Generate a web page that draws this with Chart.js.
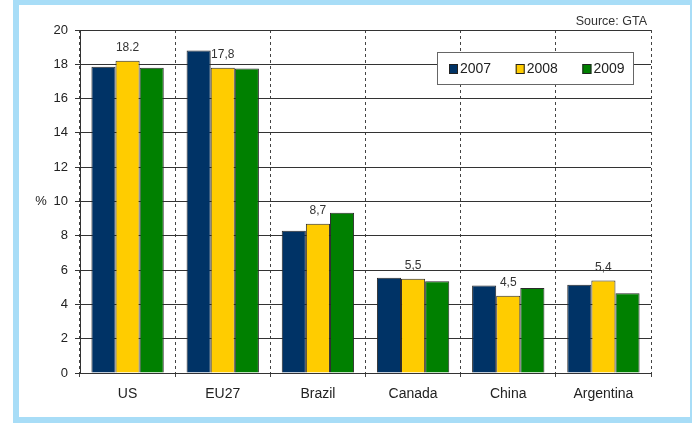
<!DOCTYPE html>
<html>
<head>
<meta charset="utf-8">
<script src="https://cdn.jsdelivr.net/npm/chart.js@4.4.1/dist/chart.umd.min.js"></script>
<style>
  html, body { margin: 0; padding: 0; background: #ffffff; }
  #frame {
    position: absolute; left: 13px; top: 0; width: 679px; height: 423px;
    background: #a8ddf7;
  }
  #panel {
    position: absolute; left: 6px; top: 5px; width: 671px; height: 412px;
    background: #ffffff;
  }
  canvas { display: block; }
</style>
</head>
<body>
<div id="frame"><div id="panel"><canvas id="c" width="671" height="411"></canvas></div></div>
<script>
// Share of world agricultural exports, %
const categories = ['US', 'EU27', 'Brazil', 'Canada', 'China', 'Argentina'];
const years = ['2007', '2008', '2009'];
const values2007 = [17.85, 18.8, 8.3, 5.55, 5.1, 5.15];
const values2008 = [18.2, 17.8, 8.7, 5.5, 4.5, 5.4];
const values2009 = [17.8, 17.75, 9.35, 5.35, 4.95, 4.65];
const labels2008 = ['18.2', '17,8', '8,7', '5,5', '4,5', '5,4'];
const yTicks = [0, 2, 4, 6, 8, 10, 12, 14, 16, 18, 20];
const colors = ['#003366', '#ffcc00', '#008000'];

const FONT = '"Liberation Sans", Arial, sans-serif';

// Value labels above the 2008 bars, axis unit, source note and boxed legend
const annotations = {
  id: 'annotations',
  afterDatasetsDraw(chart) {
    const ctx = chart.ctx;
    const area = chart.chartArea;
    ctx.save();

    // labels over the 2008 bars
    const meta = chart.getDatasetMeta(1);
    ctx.font = '12px ' + FONT;
    ctx.fillStyle = '#333333';
    ctx.textAlign = 'center';
    ctx.textBaseline = 'middle';
    meta.data.forEach((bar, i) => {
      ctx.fillText(labels2008[i], bar.x, bar.y - 13);
    });

    // unit next to the y axis
    const y = chart.scales.y;
    ctx.font = '13px ' + FONT;
    ctx.fillStyle = '#222222';
    ctx.fillText('%', 22, y.getPixelForValue(10));

    // source note
    ctx.font = '12.5px ' + FONT;
    ctx.textAlign = 'right';
    ctx.fillStyle = '#333333';
    ctx.fillText('Source: GTA', area.right - 4, 17);

    // legend box
    const bx = area.right - 214, by = area.top + 22, bw = 196, bh = 32;
    ctx.fillStyle = '#ffffff';
    ctx.fillRect(bx, by, bw, bh);
    ctx.strokeStyle = '#666666';
    ctx.lineWidth = 1;
    ctx.strokeRect(bx + 0.5, by + 0.5, bw, bh);
    ctx.font = '14px ' + FONT;
    ctx.textAlign = 'left';
    chart.data.datasets.forEach((ds, i) => {
      const sx = bx + 12 + i * 66.7;
      const sy = by + 12;
      ctx.fillStyle = ds.backgroundColor;
      ctx.fillRect(sx, sy, 9, 10);
      ctx.strokeStyle = '#222222';
      ctx.strokeRect(sx + 0.5, sy + 0.5, 8, 9);
      ctx.fillStyle = '#222222';
      ctx.fillText(ds.label, sx + 11, by + 17);
    });
    ctx.restore();
  }
};

const datasets = [values2007, values2008, values2009].map((vals, i) => ({
  label: years[i],
  data: vals,
  backgroundColor: colors[i],
  borderColor: '#2a2a2a',
  borderWidth: 1,
  borderSkipped: 'bottom',
  categoryPercentage: 0.76,
  barPercentage: 1.0
}));

new Chart(document.getElementById('c'), {
  type: 'bar',
  data: { labels: categories, datasets: datasets },
  options: {
    responsive: false,
    animation: false,
    layout: { padding: { top: 25, right: 39, left: 0, bottom: 0 } },
    plugins: {
      legend: { display: false },
      tooltip: { enabled: false }
    },
    scales: {
      x: {
        offset: true,
        grid: {
          display: true,
          offset: true,
          color: '#444444',
          lineWidth: 1,
          drawTicks: true,
          tickLength: 5,
          tickColor: '#444444',
          tickBorderDash: [3, 3]
        },
        border: { display: true, color: '#333333', width: 1, dash: [3, 3] },
        ticks: {
          color: '#222222',
          font: { family: FONT, size: 14 },
          padding: 8,
          maxRotation: 0
        },
        afterFit(scale) { scale.height = 43; }
      },
      y: {
        min: 0,
        max: 20,
        afterBuildTicks(scale) { scale.ticks = yTicks.map(v => ({ value: v })); },
        grid: {
          color: '#333333',
          lineWidth: 1,
          drawTicks: true,
          tickLength: 5,
          tickColor: '#333333'
        },
        border: { display: true, color: '#333333', width: 1 },
        ticks: {
          color: '#222222',
          font: { family: FONT, size: 13 },
          padding: 7
        },
        afterFit(scale) { scale.width = 61; }
      }
    }
  },
  plugins: [annotations]
});
</script>
</body>
</html>
